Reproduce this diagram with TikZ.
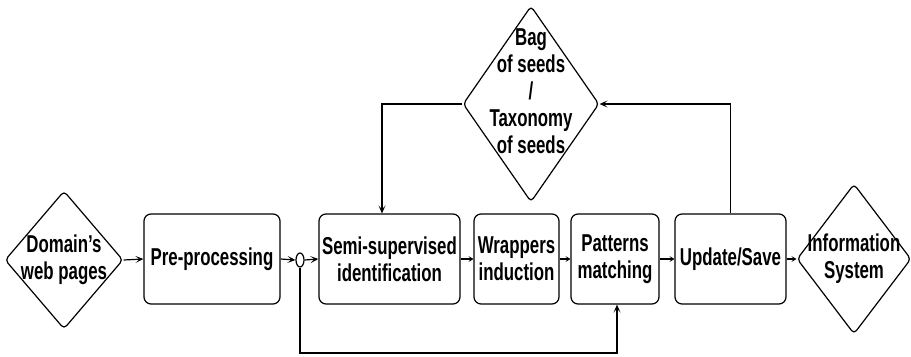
\documentclass[tikz,border=0pt]{standalone}
\usepackage{fontspec}
\setmainfont{Liberation Sans}[FakeStretch=0.69]
\usetikzlibrary{shapes.geometric,arrows.meta}
\begin{document}
\begin{tikzpicture}[x=1bp,y=-1bp,
  line width=1.2bp,
  txt/.style={align=center,inner sep=0pt,font=\fontsize{24.5}{27}\selectfont\bfseries},
  boxn/.style={draw,rounded corners=7bp,inner sep=0pt},
  dia/.style={draw,diamond,rounded corners=4bp,inner sep=0pt},
  arr/.style={-{Stealth[length=8bp,width=7bp,inset=4bp]}},
  sarr/.style={-{Stealth[length=5bp,width=6bp,inset=2.5bp]}}]
\useasboundingbox (0,0) rectangle (911,356);
% nodes
\node[dia,minimum width=118bp,minimum height=138bp] (dom) at (64,260) {};
\node[txt] (domt) at (dom) {Domain’s\\web pages};
\node[boxn,minimum width=136bp,minimum height=90bp] (pre) at (212,259) {};
\node[txt] (pret) at (pre) {Pre-processing};
\node[draw,ellipse,minimum width=8bp,minimum height=14bp,inner sep=0pt] (ell) at (300,260) {};
\node[boxn,minimum width=141bp,minimum height=90bp] (semi) at (389.5,259) {};
\node[txt] (semit) at (semi) {Semi-supervised\\identification};
\node[boxn,minimum width=85bp,minimum height=90bp] (wrap) at (516.5,259) {};
\node[txt] (wrapt) at (wrap) {Wrappers\\induction};
\node[boxn,minimum width=88bp,minimum height=90bp] (patt) at (615,259) {};
\node[txt] (pattt) at (patt) {Patterns\\matching};
\node[boxn,minimum width=111bp,minimum height=90bp] (upd) at (730.5,259) {};
\node[txt] (updt) at (upd) {Update/Save};
\node[dia,minimum width=114bp,minimum height=150bp] (info) at (854,259) {};
\node[txt] (infot) at (info) {Information\\System};
\node[dia,minimum width=136bp,minimum height=196bp] (bag) at (531,104) {};
\node[txt] (bagt) at ([yshift=13bp]bag.center) {Bag\\of seeds\\/\\Taxonomy\\of seeds};
% connectors
\draw[arr] (dom.east) -- (pre.west);
\draw[arr] (pre.east) -- (ell.west);
\draw[arr] (ell.east) -- (semi.west);
\draw[sarr] (semi.east) -- (wrap.west);
\draw[sarr] (wrap.east) -- (patt.west);
\draw[sarr] (patt.east) -- (upd.west);
\draw[sarr] (upd.east) -- (info.west);
\draw[arr] (bag.west) -| ([xshift=-7.5bp]semi.north);
\draw[arr] (upd.north) |- (bag.east);
\coordinate (lowc) at (300,353);
\draw[arr] (ell.south) -- (lowc) -| ([xshift=2bp]patt.south);
\end{tikzpicture}
\end{document}
